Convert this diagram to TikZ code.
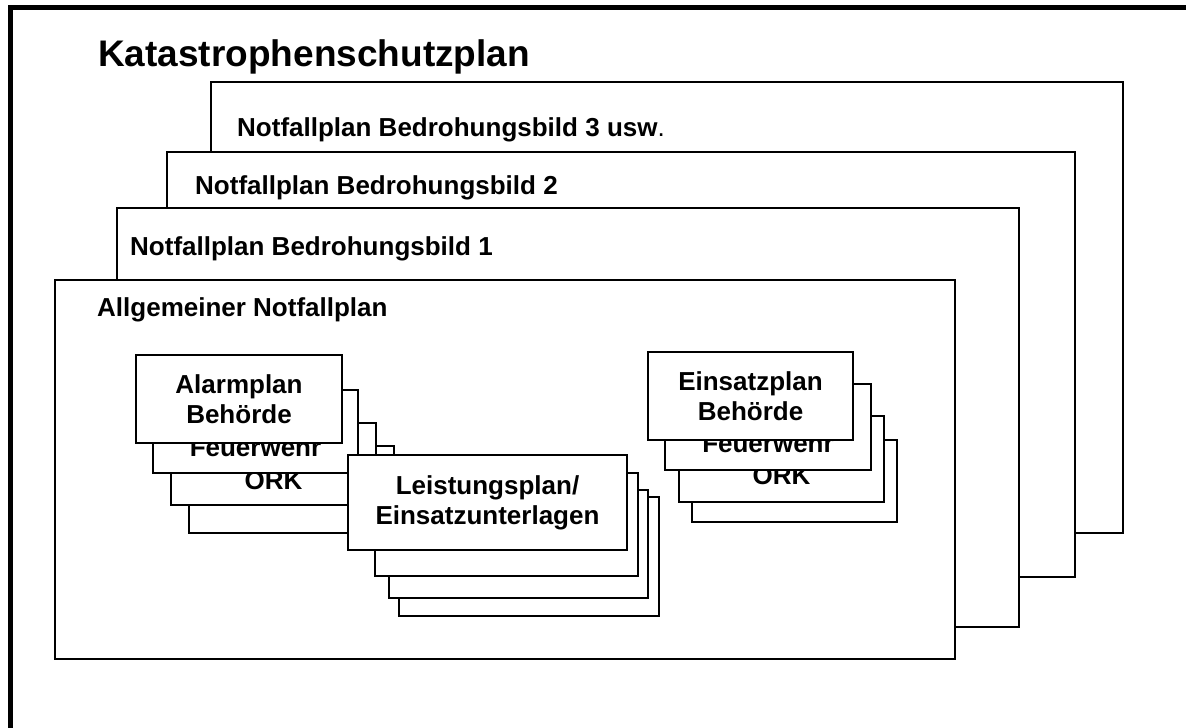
\documentclass[tikz,border=0pt]{standalone}
\usepackage{fontspec}
\setmainfont{Liberation Sans}
% \panel{style}{name}{x1}{y1}{x2}{y2}{text}: a box given by its corners
\newcommand\panel[7]{%
  \node[#1, minimum width={(#5-#3)*1pt}, minimum height={(#6-#4)*1pt}]
    (#2) at ({(#3+#5)/2},{(#4+#6)/2}) {#7};}
\begin{document}
\begin{tikzpicture}[x=1pt,y=-1pt,
  sheet/.style={draw, fill=white, line width=2.5pt, inner sep=0pt},
  card/.style={draw, fill=white, line width=2pt, inner sep=0pt, align=center,
    font=\fontsize{26}{30}\selectfont\bfseries},
  heading/.style={anchor=base west, inner sep=0pt,
    font=\fontsize{26}{30}\selectfont\bfseries}]
\useasboundingbox (0,0) rectangle (1186,728);

% outer frame (top and left edges)
\coordinate (fr) at (1186,7.5);
\coordinate (fc) at (10.5,7.5);
\coordinate (fb) at (10.5,728);
\draw[line width=5pt] (fr) -- (fc) -- (fb);

\node[heading, font=\fontsize{37}{44}\selectfont\bfseries] (title) at (98,66)
  {Katastrophenschutzplan};

% stacked plan sheets, back to front
\panel{sheet}{s3}{211}{82}{1123}{533}{}
\node[heading] (h3) at (237,136) {Notfallplan Bedrohungsbild 3 usw\textmd{.}};
\panel{sheet}{s2}{167}{152}{1075}{577}{}
\node[heading] (h2) at (195,194) {Notfallplan Bedrohungsbild 2};
\panel{sheet}{s1}{117}{208}{1019}{627}{}
\node[heading] (h1) at (130,255) {Notfallplan Bedrohungsbild 1};
\panel{sheet}{s0}{55}{280}{955}{659}{}
\node[heading] (h0) at (97,316) {Allgemeiner Notfallplan};

% alarm plans
\panel{card}{a4}{189}{446}{394}{533}{}
\panel{card}{a3}{171}{423}{376}{505}{\strut\\ORK}
\panel{card}{a2}{153}{390}{358}{473}{\strut\\Feuerwehr}
\panel{card}{a1}{136}{355}{342}{443}{Alarmplan\\Behörde}

% operation plans
\panel{card}{e4}{692}{440}{897}{522}{}
\panel{card}{e3}{679}{416}{884}{502}{\strut\\ORK}
\panel{card}{e2}{665}{384}{871}{470}{\strut\\Feuerwehr}
\panel{card}{e1}{648}{352}{853}{440}{Einsatzplan\\Behörde}

% service plans
\panel{card}{l4}{399}{497}{659}{616}{}
\panel{card}{l3}{389}{490}{648}{598}{}
\panel{card}{l2}{375}{473}{638}{576}{}
\panel{card}{l1}{348}{455}{627}{550}{Leistungsplan/\\Einsatzunterlagen}
\end{tikzpicture}
\end{document}
